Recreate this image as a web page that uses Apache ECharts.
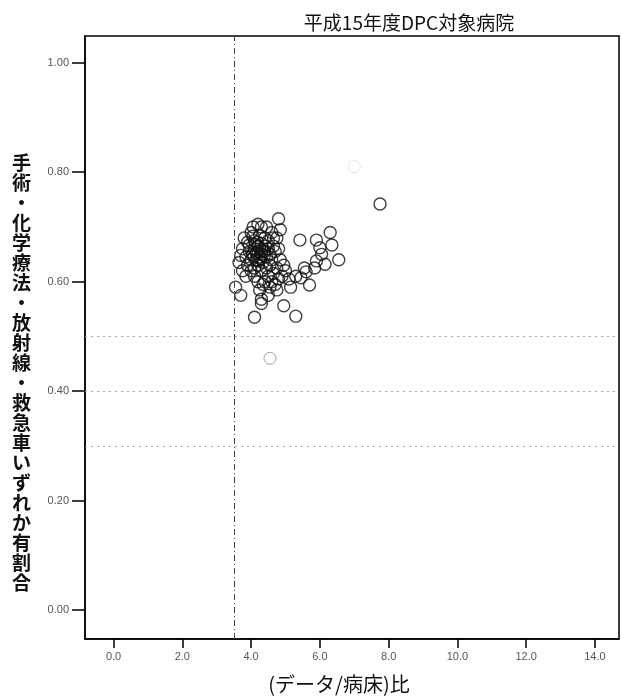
<!DOCTYPE html>
<html>
<head>
    <meta charset="utf-8">
    <title>ECharts</title>
    <script type="text/javascript" src="https://cdn.jsdelivr.net/npm/echarts@6/dist/echarts.min.js"></script>
    <style>
        body { margin: 0; background: #fff; }
    </style>
</head>
<body>
<div id="main" style="width: 622px;height:697px;"></div>
<script type="text/javascript">
    // (データ/病床)比
    var ratio = [
        7.75, 7.0, 4.55, 3.55, 3.7, 4.1, 4.3, 4.3, 4.95, 5.3,
        5.42, 5.9, 6.3, 6.0, 6.35, 6.55, 6.15, 5.85, 5.6, 5.45, 5.7, 5.15, 5.3, 5.55, 6.05, 5.9,
        4.06, 4.3, 4.45, 4.8, 3.8, 4.75, 4.0, 4.2, 4.6, 3.9, 4.85,
        4.1, 4.2, 4.3, 4.25, 4.15, 4.35, 4.05, 4.4, 4.2, 4.3, 4.1, 4.45, 4.0, 4.5, 4.35, 4.2, 4.25,
        4.15, 4.28, 4.38, 4.12, 4.22, 4.32, 4.08, 4.18, 4.42, 4.55, 4.6, 4.65, 4.7, 4.5, 4.55, 3.95,
        3.85, 3.9, 4.0, 4.1, 4.3, 4.45, 4.8, 4.85, 4.75, 3.75, 3.7, 4.65, 4.4, 4.25, 4.05, 3.95,
        4.5, 4.6, 4.7, 4.65, 4.8, 4.55, 4.4, 4.9, 4.75, 4.35, 4.2, 4.1, 5.0, 5.1, 4.95, 4.25, 4.5,
        3.75, 3.85, 3.65
    ];
    // 手術・化学療法・放射線・救急車いずれか有割合
    var share = [
        0.742, 0.81, 0.46, 0.59, 0.575, 0.535, 0.56, 0.568, 0.556, 0.537,
        0.676, 0.676, 0.69, 0.662, 0.667, 0.64, 0.632, 0.625, 0.618, 0.607, 0.594, 0.59, 0.61, 0.625, 0.65, 0.638,
        0.70, 0.70, 0.70, 0.715, 0.68, 0.68, 0.69, 0.705, 0.69, 0.672, 0.695,
        0.66, 0.655, 0.65, 0.645, 0.64, 0.66, 0.65, 0.655, 0.665, 0.67, 0.675, 0.645, 0.64, 0.66, 0.635, 0.63, 0.66,
        0.652, 0.642, 0.648, 0.668, 0.638, 0.657, 0.645, 0.672, 0.665, 0.65, 0.64, 0.665, 0.655, 0.675, 0.63, 0.655,
        0.645, 0.63, 0.62, 0.625, 0.62, 0.625, 0.66, 0.64, 0.625, 0.66, 0.648, 0.68, 0.68, 0.685, 0.683, 0.667,
        0.61, 0.60, 0.595, 0.615, 0.605, 0.59, 0.60, 0.61, 0.585, 0.595, 0.60, 0.61, 0.62, 0.605, 0.63, 0.585, 0.575,
        0.62, 0.61, 0.635
    ];
    // faint (barely printed) circles in the scan
    var faint = [1, 2];
    var xTicks = [0, 2, 4, 6, 8, 10, 12, 14];
    var yTicks = [0, 0.2, 0.4, 0.6, 0.8, 1.0];
    var refX = 3.5;
    var refY = [0.3, 0.4, 0.5];

    var points = [];
    for (var i = 0; i < ratio.length; i++) {
        var p = { value: [ratio[i], share[i]] };
        if (faint.indexOf(i) >= 0) {
            p.itemStyle = { borderColor: i === 1 ? '#ddd' : '#888', borderWidth: 1 };
        }
        points.push(p);
    }

    var yTitle = '手術・化学療法・放射線・救急車いずれか有割合'.split('').join('\n');
    var font = 'Noto Sans CJK JP';

    var myChart = echarts.init(document.getElementById('main'));

    var refLines = refY.map(function (v) {
        return { yAxis: v, lineStyle: { color: '#aaa', type: [2, 4], width: 1 } };
    });
    refLines.push({ xAxis: refX, lineStyle: { color: '#444', type: [6, 3, 1, 3], width: 1 } });

    var option = {
        animation: false,
        title: [{
            text: '平成15年度DPC対象病院',
            left: 404,
            top: 8,
            textAlign: 'center',
            textStyle: { fontSize: 19, fontWeight: 'normal', color: '#111', fontFamily: font }
        }, {
            text: yTitle,
            left: 7,
            top: 148,
            textStyle: { fontSize: 19, lineHeight: 20, fontWeight: 'bold', color: '#111', fontFamily: font }
        }, {
            text: '(データ/病床)比',
            left: 334,
            top: 669,
            textAlign: 'center',
            textStyle: { fontSize: 20, fontWeight: 'normal', color: '#111', fontFamily: font }
        }],
        grid: {
            left: 85,
            right: 3,
            top: 36,
            bottom: 58,
            show: true,
            borderColor: '#000',
            borderWidth: 1.5
        },
        xAxis: {
            type: 'value',
            min: -0.83,
            max: 14.7,
            axisLine: { show: true, onZero: false, lineStyle: { color: '#000', width: 1.5 } },
            axisTick: { show: true, length: 9, customValues: xTicks, lineStyle: { color: '#000', width: 1.5 } },
            axisLabel: {
                customValues: xTicks,
                margin: 12,
                fontSize: 11,
                color: '#555',
                formatter: function (v) { return v.toFixed(1); }
            },
            splitLine: { show: false }
        },
        yAxis: {
            type: 'value',
            min: -0.053,
            max: 1.049,
            axisLine: { show: true, onZero: false, lineStyle: { color: '#000', width: 1.5 } },
            axisTick: { show: true, length: 13, customValues: yTicks, lineStyle: { color: '#000', width: 1.5 } },
            axisLabel: {
                customValues: yTicks,
                margin: 16,
                fontSize: 11,
                color: '#555',
                formatter: function (v) { return v.toFixed(2); }
            },
            splitLine: { show: false }
        },
        series: [{
            type: 'scatter',
            data: points,
            symbol: 'circle',
            symbolSize: 12,
            itemStyle: {
                color: 'rgba(0,0,0,0)',
                borderColor: '#111',
                borderWidth: 1.4
            },
            markLine: {
                silent: true,
                symbol: 'none',
                label: { show: false },
                data: refLines
            }
        }]
    };

    myChart.setOption(option);
</script>
</body>
</html>
